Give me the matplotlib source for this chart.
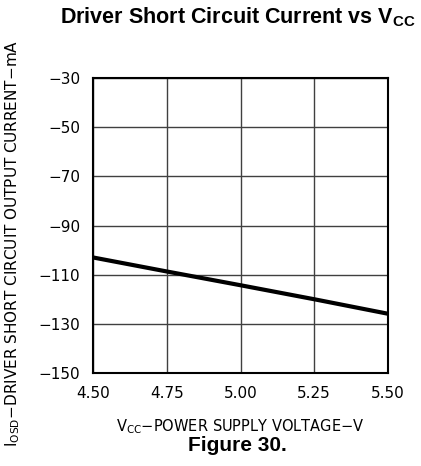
import matplotlib
matplotlib.use('Agg')
import matplotlib.pyplot as plt

# supply voltage (V) and driver short circuit current (mA)
vcc = [4.50, 4.75, 5.00, 5.25, 5.50]
iosd = [-103.0, -108.7, -114.3, -120.0, -125.9]

x_ticks = [4.50, 4.75, 5.00, 5.25, 5.50]
y_ticks = [-30, -50, -70, -90, -110, -130, -150]

fig = plt.figure(figsize=(4.21, 4.66), dpi=100)
ax = fig.add_axes([93/421, 1 - 373/466, 295/421, 295/466])

ax.plot(vcc, iosd, color='black', linewidth=3, solid_capstyle='butt')

ax.set_xlim(4.50, 5.50)
ax.set_ylim(-150, -30)
ax.set_xticks(x_ticks)
ax.set_xticklabels(['%.2f' % v for v in x_ticks])
ax.set_yticks(y_ticks)
ax.set_yticklabels(['\u2212%d' % abs(v) for v in y_ticks])
ax.tick_params(length=0, pad=9, labelsize=11)
ax.grid(True, color='#404040', linewidth=1)
for s in ax.spines.values():
    s.set_linewidth(1.5)
    s.set_color('black')

ax.set_xlabel('V$_{\\mathregular{CC}}$\u2212POWER SUPPLY VOLTAGE\u2212V', fontsize=10.5, labelpad=12)
ax.set_ylabel('I$_{\\mathregular{OSD}}$\u2212DRIVER SHORT CIRCUIT OUTPUT CURRENT\u2212mA', fontsize=11)
ax.yaxis.set_label_coords(-0.24, 0.44)

fig.text(0.566, 0.963, 'Driver Short Circuit Current vs V$_{\\mathregular{CC}}$',
         ha='center', va='center', fontsize=15.5, fontweight='bold', family='Liberation Sans')
fig.text(0.563, 0.045, 'Figure 30.', ha='center', va='center',
         fontsize=15, fontweight='bold', family='Liberation Sans')

fig.savefig('out.png', dpi=100)
